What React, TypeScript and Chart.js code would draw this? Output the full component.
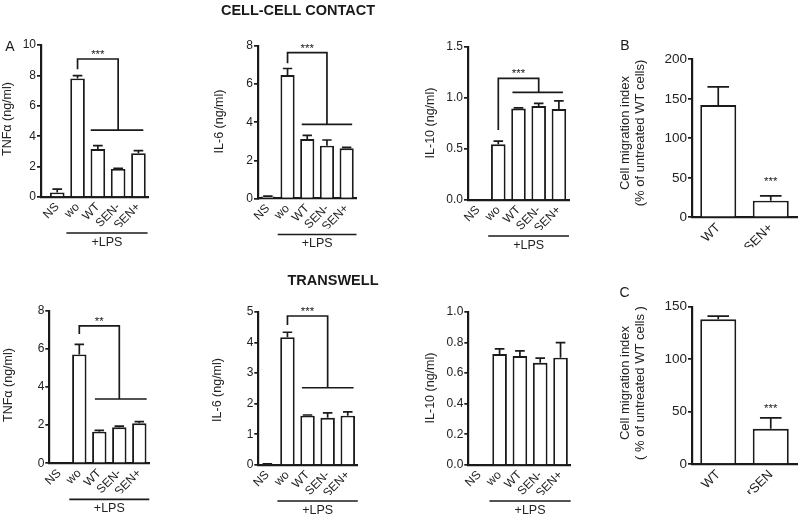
import React, { useEffect, useRef } from "react";
import { Chart, registerables } from "chart.js";

Chart.register(...registerables);

const FONT = "'Liberation Sans', Arial, Helvetica, sans-serif";

// ---- categories / tick labels ----
const CATEGORIES_LPS = ["NS", "wo", "WT", "SEN-", "SEN+"];
const CATEGORIES_B = ["WT", "SEN+"];
const CATEGORIES_C = ["WT", "rSEN"];

// ---- CELL-CELL CONTACT ----
const TNF_CONTACT = [0.3, 7.8, 3.15, 1.85, 2.88];
const TNF_CONTACT_ERR = [0.22, 0.18, 0.23, 0.04, 0.17];
const IL6_CONTACT = [0.1, 6.48, 3.12, 2.77, 2.63];
const IL6_CONTACT_ERR = [0.02, 0.34, 0.19, 0.3, 0.05];
const IL10_CONTACT = [0.005, 0.545, 0.895, 0.92, 0.89];
const IL10_CONTACT_ERR = [0, 0.032, 0.006, 0.026, 0.08];
const MIGRATION_B = [142, 21];
const MIGRATION_B_ERR = [23, 6];

// ---- TRANSWELL ----
const TNF_TRANS = [0, 5.71, 1.66, 1.89, 2.1];
const TNF_TRANS_ERR = [0, 0.52, 0.07, 0.06, 0.08];
const IL6_TRANS = [0.03, 4.17, 1.61, 1.54, 1.61];
const IL6_TRANS_ERR = [0.01, 0.16, 0.02, 0.16, 0.12];
const IL10_TRANS = [0, 0.724, 0.711, 0.667, 0.7];
const IL10_TRANS_ERR = [0, 0.033, 0.033, 0.03, 0.098];
const MIGRATION_C = [138, 33.5];
const MIGRATION_C_ERR = [3, 10.5];

// ---- significance annotations (data coordinates) ----
type Sig = { label: string; from: number; to: number; top: number; leftEnd: number; bottom: number; lineFrom: number; lineTo: number };
const SIG_TNF_CONTACT: Sig = { label: "***", from: 1, to: 3, top: 9.08, leftEnd: 8.4, bottom: 4.4, lineFrom: 1.65, lineTo: 4.24 };
const SIG_IL6_CONTACT: Sig = { label: "***", from: 1, to: 3, top: 7.65, leftEnd: 7.09, bottom: 3.89, lineFrom: 1.72, lineTo: 4.28 };
const SIG_IL10_CONTACT: Sig = { label: "***", from: 1, to: 3, top: 1.19, leftEnd: 0.685, bottom: 1.054, lineFrom: 1.7, lineTo: 4.2 };
const SIG_TNF_TRANS: Sig = { label: "**", from: 1, to: 3, top: 7.2, leftEnd: 6.78, bottom: 3.37, lineFrom: 1.78, lineTo: 4.37 };
const SIG_IL6_TRANS: Sig = { label: "***", from: 1, to: 3, top: 4.86, leftEnd: 4.57, bottom: 2.52, lineFrom: 1.72, lineTo: 4.29 };
type Star = { index: number; value: number; label: string };
const STAR_B: Star = { index: 1, value: 49, label: "***" };
const STAR_C: Star = { index: 1, value: 55, label: "***" };
const LPS_RANGE: [number, number] = [0.5, 4.5];
const LPS_RANGE_P1: [number, number] = [0.45, 4.45];

type PanelSpec = {
  id: string;
  cats: string[];
  values: number[];
  errs: number[];
  yMax: number;
  yStep: number;
  decimals: number;
  xMin: number;
  xMax: number;
  area: [number, number, number, number];
  title: string[];
  titleX: number;
  titleY: number;
  titleFont: number;
  tickFont: number;
  xFont: number;
  barPct: number;
  capRatio: number;
  sig?: Sig;
  star?: Star;
  lps?: [number, number];
};

const YW = 30;
const XH = 30;
const INK = "#1a1a1a";
const TEXT = "#222";

const PANELS: PanelSpec[] = [
  {
    id: "tnf-contact", cats: CATEGORIES_LPS, values: TNF_CONTACT, errs: TNF_CONTACT_ERR,
    yMax: 10, yStep: 2, decimals: 0, xMin: -0.8, xMax: 4.5, area: [41, 45, 148.6, 197],
    title: ["TNF\u03b1 (ng/ml)"], titleX: 8, titleY: 119, titleFont: 12.5, tickFont: 12, xFont: 12,
    barPct: 0.72, capRatio: 0.33, sig: SIG_TNF_CONTACT, lps: LPS_RANGE_P1,
  },
  {
    id: "il6-contact", cats: CATEGORIES_LPS, values: IL6_CONTACT, errs: IL6_CONTACT_ERR,
    yMax: 8, yStep: 2, decimals: 0, xMin: -0.5, xMax: 4.5, area: [258, 46, 356.5, 198.5],
    title: ["IL-6 (ng/ml)"], titleX: 220, titleY: 121.5, titleFont: 12.5, tickFont: 12, xFont: 12,
    barPct: 0.72, capRatio: 0.33, sig: SIG_IL6_CONTACT, lps: LPS_RANGE,
  },
  {
    id: "il10-contact", cats: CATEGORIES_LPS, values: IL10_CONTACT, errs: IL10_CONTACT_ERR,
    yMax: 1.5, yStep: 0.5, decimals: 1, xMin: -0.5, xMax: 4.5, area: [468, 46.7, 569, 200],
    title: ["IL-10 (ng/ml)"], titleX: 430.7, titleY: 123, titleFont: 12.5, tickFont: 12, xFont: 12,
    barPct: 0.72, capRatio: 0.33, sig: SIG_IL10_CONTACT, lps: LPS_RANGE,
  },
  {
    id: "migration-b", cats: CATEGORIES_B, values: MIGRATION_B, errs: MIGRATION_B_ERR,
    yMax: 200, yStep: 50, decimals: 0, xMin: -0.5, xMax: 1.5, area: [692, 59.3, 797, 217.3],
    title: ["Cell migration index", "(% of untreated WT cells)"], titleX: 632.5, titleY: 133, titleFont: 13, tickFont: 13.5, xFont: 13,
    barPct: 0.686, capRatio: 0.3, star: STAR_B,
  },
  {
    id: "tnf-trans", cats: CATEGORIES_LPS, values: TNF_TRANS, errs: TNF_TRANS_ERR,
    yMax: 8, yStep: 2, decimals: 0, xMin: -0.5, xMax: 4.5, area: [49.3, 310.7, 149.3, 463.3],
    title: ["TNF\u03b1 (ng/ml)"], titleX: 8.3, titleY: 385, titleFont: 12.5, tickFont: 12, xFont: 12,
    barPct: 0.72, capRatio: 0.33, sig: SIG_TNF_TRANS, lps: LPS_RANGE,
  },
  {
    id: "il6-trans", cats: CATEGORIES_LPS, values: IL6_TRANS, errs: IL6_TRANS_ERR,
    yMax: 5, yStep: 1, decimals: 0, xMin: -0.45, xMax: 4.5, area: [258.3, 311.7, 357.8, 465],
    title: ["IL-6 (ng/ml)"], titleX: 218, titleY: 390, titleFont: 12.5, tickFont: 12, xFont: 12,
    barPct: 0.72, capRatio: 0.33, sig: SIG_IL6_TRANS, lps: LPS_RANGE,
  },
  {
    id: "il10-trans", cats: CATEGORIES_LPS, values: IL10_TRANS, errs: IL10_TRANS_ERR,
    yMax: 1.0, yStep: 0.2, decimals: 1, xMin: -0.54, xMax: 4.5, area: [468.3, 311.7, 570.7, 465],
    title: ["IL-10 (ng/ml)"], titleX: 430.7, titleY: 388, titleFont: 12.5, tickFont: 12, xFont: 12,
    barPct: 0.72, capRatio: 0.33, lps: LPS_RANGE,
  },
  {
    id: "migration-c", cats: CATEGORIES_C, values: MIGRATION_C, errs: MIGRATION_C_ERR,
    yMax: 150, yStep: 50, decimals: 0, xMin: -0.5, xMax: 1.5, area: [692, 306.7, 797, 464],
    title: ["Cell migration index", "( % of untreated WT cells )"], titleX: 632.5, titleY: 383, titleFont: 13, tickFont: 13.5, xFont: 13,
    barPct: 0.686, capRatio: 0.3, star: STAR_C,
  },
];

function makeOverlay(p: PanelSpec) {
  return {
    id: "overlay-" + p.id,
    afterDatasetsDraw(chart: any) {
      const ctx: CanvasRenderingContext2D = chart.ctx;
      const xs = chart.scales.x;
      const ys = chart.scales.y;
      const meta = chart.getDatasetMeta(0);
      ctx.save();
      ctx.strokeStyle = INK;
      ctx.lineWidth = 1.7;
      // error bars (upper only)
      p.values.forEach((v, i) => {
        const e = p.errs[i];
        if (!e) return;
        const el: any = meta.data[i];
        const x = xs.getPixelForValue(i);
        const y0 = ys.getPixelForValue(v);
        const y1 = ys.getPixelForValue(v + e);
        const hw = (el ? el.width : 14) * p.capRatio;
        ctx.beginPath();
        ctx.moveTo(x, y0);
        ctx.lineTo(x, y1);
        ctx.moveTo(x - hw, y1);
        ctx.lineTo(x + hw, y1);
        ctx.stroke();
      });
      ctx.fillStyle = TEXT;
      // significance bracket
      if (p.sig) {
        const s = p.sig;
        const xl = xs.getPixelForValue(s.from);
        const xr = xs.getPixelForValue(s.to);
        const yt = ys.getPixelForValue(s.top);
        const yb = ys.getPixelForValue(s.bottom);
        ctx.beginPath();
        ctx.moveTo(xl, ys.getPixelForValue(s.leftEnd));
        ctx.lineTo(xl, yt);
        ctx.lineTo(xr, yt);
        ctx.lineTo(xr, yb);
        ctx.moveTo(xs.getPixelForValue(s.lineFrom), yb);
        ctx.lineTo(xs.getPixelForValue(s.lineTo), yb);
        ctx.stroke();
        ctx.font = `11.5px ${FONT}`;
        ctx.textAlign = "center";
        ctx.textBaseline = "alphabetic";
        ctx.fillText(s.label, (xl + xr) / 2, yt - 1);
      }
      if (p.star) {
        const st = p.star;
        ctx.font = `11.5px ${FONT}`;
        ctx.textAlign = "center";
        ctx.textBaseline = "alphabetic";
        ctx.fillText(st.label, xs.getPixelForValue(st.index), ys.getPixelForValue(st.value) + 6);
      }
      // +LPS group line
      if (p.lps) {
        const yl = chart.chartArea.bottom + 36;
        const x1 = xs.getPixelForValue(p.lps[0]);
        const x2 = xs.getPixelForValue(p.lps[1]);
        ctx.strokeStyle = INK;
        ctx.beginPath();
        ctx.moveTo(x1, yl);
        ctx.lineTo(x2, yl);
        ctx.stroke();
        ctx.font = `12.5px ${FONT}`;
        ctx.textAlign = "center";
        ctx.textBaseline = "middle";
        ctx.fillText("+LPS", (x1 + x2) / 2, yl + 9.5);
      }
      // y-axis title
      ctx.font = `${p.titleFont}px ${FONT}`;
      ctx.textAlign = "center";
      ctx.textBaseline = "middle";
      ctx.translate(p.titleX, p.titleY);
      ctx.rotate(-Math.PI / 2);
      const lh = p.titleFont * 1.15;
      p.title.forEach((t, i) => {
        ctx.fillText(t, 0, (i - (p.title.length - 1) / 2) * lh);
      });
      ctx.restore();
    },
  };
}

function Panel({ p }: { p: PanelSpec }) {
  const ref = useRef<HTMLCanvasElement | null>(null);
  useEffect(() => {
    if (!ref.current) return;
    const [left, top, right, bottom] = p.area;
    const chart = new Chart(ref.current, {
      type: "bar",
      data: {
        datasets: [
          {
            data: p.values.map((v, i) => ({ x: i, y: v })) as any,
            backgroundColor: "#ffffff",
            borderColor: INK,
            borderWidth: 1.9,
            borderSkipped: "start",
            categoryPercentage: 1,
            barPercentage: p.barPct,
          } as any,
        ],
      },
      options: {
        responsive: false,
        animation: false,
        devicePixelRatio: 1,
        events: [],
        layout: {
          padding: { left: left - YW, top: top, right: 800 - right, bottom: 517 - bottom - XH },
        },
        plugins: { legend: { display: false }, tooltip: { enabled: false } },
        scales: {
          x: {
            type: "linear",
            min: p.xMin,
            max: p.xMax,
            offset: false,
            bounds: "data",
            grid: { display: false, drawTicks: false, tickLength: 0 },
            border: { display: true, color: INK, width: 2.2 },
            ticks: {
              autoSkip: false,
              minRotation: 45,
              maxRotation: 45,
              padding: 3,
              color: TEXT,
              font: { size: p.xFont, family: FONT },
              callback: (v: any) => (p.cats[v as number] ?? ""),
            },
            afterBuildTicks: (axis: any) => {
              axis.ticks = p.cats.map((_, i) => ({ value: i }));
            },
            afterFit: (s: any) => {
              s.height = XH;
            },
          } as any,
          y: {
            min: 0,
            max: p.yMax,
            ticks: {
              stepSize: p.yStep,
              padding: 1,
              color: TEXT,
              font: { size: p.tickFont, family: FONT },
              callback: (v: any) => Number(v).toFixed(p.decimals),
            },
            grid: { display: true, drawOnChartArea: false, drawTicks: true, tickLength: 4, color: INK, lineWidth: 1.7 },
            border: { display: true, color: INK, width: 2.2 },
            afterFit: (s: any) => {
              s.width = YW;
            },
          } as any,
        },
      },
      plugins: [makeOverlay(p)],
    });
    return () => chart.destroy();
  }, [p]);
  return (
    <canvas
      ref={ref}
      width={800}
      height={517}
      style={{ position: "absolute", left: 0, top: 0, width: 800, height: 517 }}
    />
  );
}

const labelStyle = (x: number, y: number, size: number, bold: boolean): React.CSSProperties => ({
  position: "absolute",
  left: x,
  top: y,
  transform: "translate(-50%, -50%)",
  fontFamily: FONT,
  fontSize: size,
  fontWeight: bold ? "bold" : "normal",
  lineHeight: 1,
  color: "#1a1a1a",
  whiteSpace: "nowrap",
});

export default function App() {
  return (
    <div style={{ position: "absolute", left: 0, top: 0, width: 800, height: 517, background: "#fff", overflow: "hidden" }}>
      {PANELS.map((p) => (
        <Panel key={p.id} p={p} />
      ))}
      <div style={labelStyle(298, 10, 14.5, true)}>CELL-CELL CONTACT</div>
      <div style={labelStyle(333, 280, 14.5, true)}>TRANSWELL</div>
      <div style={labelStyle(10, 46, 14, false)}>A</div>
      <div style={labelStyle(625, 44.5, 14, false)}>B</div>
      <div style={labelStyle(624.5, 292, 14, false)}>C</div>
    </div>
  );
}
